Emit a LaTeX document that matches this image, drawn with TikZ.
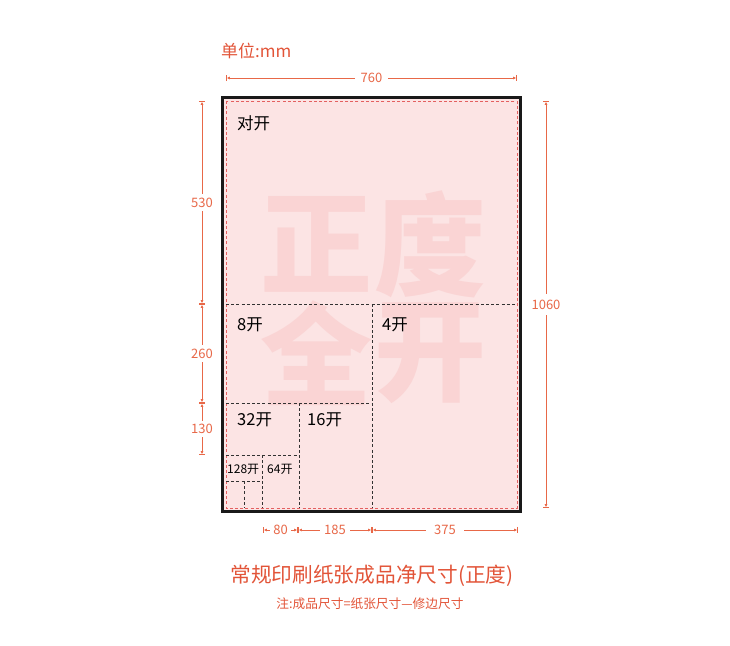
\documentclass[tikz,border=0pt]{standalone}
\usepackage{fontspec}
\setmainfont{Noto Sans CJK SC}
\newfontfamily\cjk{Noto Sans CJK SC}
\usetikzlibrary{arrows.meta}
\definecolor{dimc}{RGB}{232,104,72}
\definecolor{titc}{RGB}{226,84,56}
\definecolor{paper}{RGB}{252,228,228}
\definecolor{wmark}{RGB}{250,212,212}
\definecolor{trimc}{RGB}{228,96,96}
\definecolor{cutc}{RGB}{50,50,50}
\tikzset{
  dimline/.style={draw=dimc, line width=0.8pt, |<->|, >={Latex[length=3pt,width=3pt]}},
  dimlab/.style={text=dimc, fill=white, inner sep=1.5pt, font=\cjk\fontsize{13}{13}\selectfont},
  cut/.style={draw=cutc, line width=0.9pt, dash pattern=on 3pt off 2.2pt},
  trim/.style={draw=trimc, line width=0.8pt, dash pattern=on 3pt off 2.2pt},
  lab/.style={anchor=west, inner sep=0pt, text=black, font=\cjk\fontsize{16.5}{16.5}\selectfont},
  slab/.style={anchor=west, inner sep=0pt, text=black, font=\cjk\fontsize{12}{12}\selectfont},
  wm/.style={text=wmark, inner sep=0pt, font=\cjk\bfseries\fontsize{112}{112}\selectfont}
}
\begin{document}
\begin{tikzpicture}[x=1pt,y=-1pt]
\useasboundingbox (0,0) rectangle (730,645);
% sheet
\fill[paper] (222,97) rectangle (520,511);
% watermark
\node[wm] (w1) at (316,244) {正};
\node[wm] (w2) at (430,244) {度};
\node[wm] (w3) at (316,353) {全};
\node[wm] (w4) at (430,353) {开};
% trim line
\draw[trim] (226,101) rectangle (517,508);
% cut lines
\coordinate (h1a) at (226,304); \coordinate (h1b) at (517,304);
\coordinate (v1a) at (372,304); \coordinate (v1b) at (372,508);
\coordinate (h2a) at (226,403); \coordinate (h2b) at (372,403);
\coordinate (v2a) at (299,403); \coordinate (v2b) at (299,508);
\coordinate (h3a) at (226,455); \coordinate (h3b) at (299,455);
\coordinate (v3a) at (262,455); \coordinate (v3b) at (262,508);
\coordinate (h4a) at (226,481); \coordinate (h4b) at (262,481);
\coordinate (v4a) at (244,481); \coordinate (v4b) at (244,508);
\draw[cut] (h1a) -- (h1b);
\draw[cut] (v1a) -- (v1b);
\draw[cut] (h2a) -- (h2b);
\draw[cut] (v2a) -- (v2b);
\draw[cut] (h3a) -- (h3b);
\draw[cut] (v3a) -- (v3b);
\draw[cut] (h4a) -- (h4b);
\draw[cut] (v4a) -- (v4b);
% border
\draw[line width=3pt, draw=black!90] (222,97) rectangle (520,511);
% labels
\node[lab] (l2) at (237,123) {对开};
\node[lab] (l8) at (237,325) {8开};
\node[lab] (l4) at (382,325) {4开};
\node[lab] (l32) at (237,420) {32开};
\node[lab] (l16) at (307,420) {16开};
\node[slab] (l128) at (227,469) {128开};
\node[slab] (l64) at (267,469) {64开};
% unit
\node[anchor=west, inner sep=0pt, text=titc, font=\cjk\fontsize{17}{17}\selectfont] (unit) at (221,51) {单位:mm};
% top dimension
\coordinate (t1) at (226,78); \coordinate (t2) at (517,78);
\draw[dimline] (t1) -- node[dimlab, inner xsep=6pt] (d760) {760} (t2);
% right dimension
\coordinate (r1) at (546,101); \coordinate (r2) at (546,508);
\draw[dimline] (r1) -- node[dimlab, inner ysep=6pt] (d1060) {1060} (r2);
% left dimensions
\coordinate (a0) at (202,101); \coordinate (a1) at (202,304);
\coordinate (a2) at (202,403); \coordinate (a3) at (202,455);
\draw[dimline] (a0) -- node[dimlab, inner ysep=4pt] (d530) {530} (a1);
\draw[dimline] (a1) -- node[dimlab, inner ysep=4pt] (d260) {260} (a2);
\draw[dimline] (a2) -- node[dimlab, inner ysep=3pt] (d130) {130} (a3);
% bottom dimensions
\coordinate (b0) at (263,530); \coordinate (b1) at (298,530);
\coordinate (b2) at (372,530); \coordinate (b3) at (518,530);
\draw[dimline] (b0) -- node[dimlab, inner xsep=3pt] (d80) {80} (b1);
\draw[dimline] (b1) -- node[dimlab, inner xsep=4pt] (d185) {185} (b2);
\draw[dimline] (b2) -- node[dimlab, inner xsep=8pt] (d375) {375} (b3);
% titles
\node[text=titc, inner sep=0pt, font=\cjk\fontsize{20.7}{20.7}\selectfont] (title) at (372,576) {常规印刷纸张成品净尺寸(正度)};
\node[text=titc, inner sep=0pt, font=\cjk\fontsize{12.7}{12.7}\selectfont] (note) at (370,604) {注:成品尺寸=纸张尺寸—修边尺寸};
\end{tikzpicture}
\end{document}
